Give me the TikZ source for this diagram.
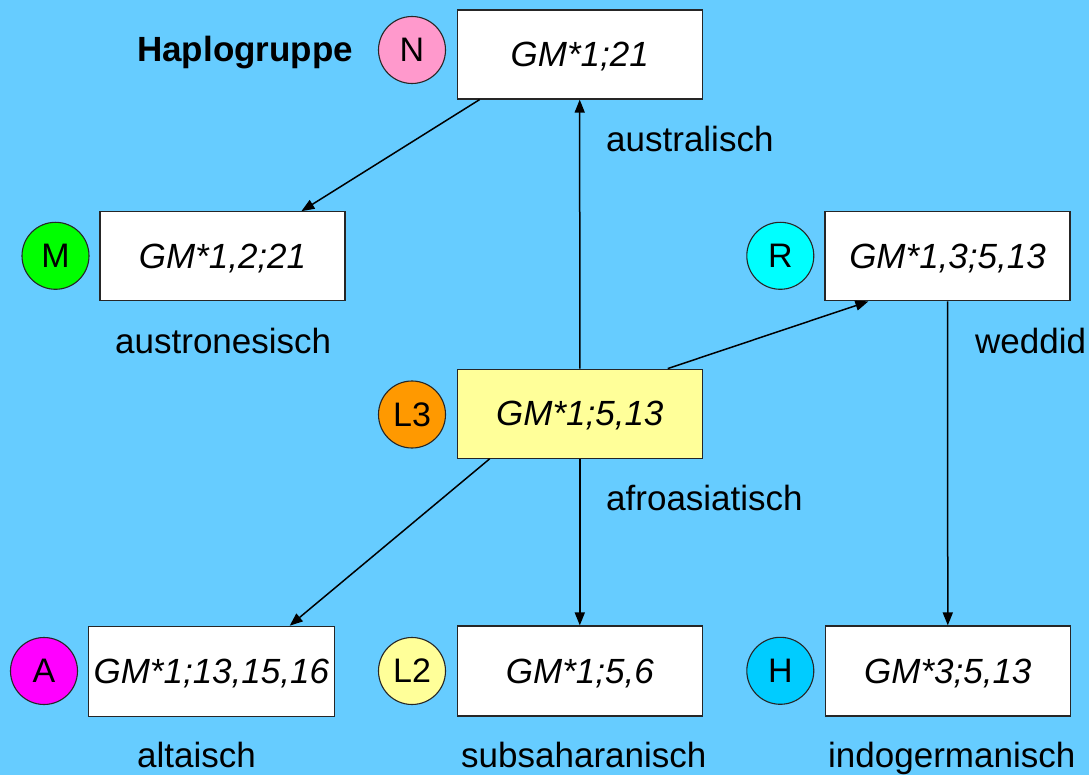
\documentclass[tikz,border=0pt]{standalone}
\usepackage{fontspec}
\setmainfont{Liberation Sans}
\usetikzlibrary{arrows.meta}
\definecolor{bgblue}{HTML}{66CCFF}
\definecolor{cN}{HTML}{FF99CC}
\definecolor{cM}{HTML}{00FF00}
\definecolor{cL}{HTML}{FF9900}
\definecolor{cY}{HTML}{FFFF99}
\definecolor{cA}{HTML}{FF00FF}
\definecolor{cR}{HTML}{00FFFF}
\definecolor{cH}{HTML}{00CCFF}
\tikzset{
  gmbox/.style={draw=black!85, line width=1.2pt, fill=white, minimum width=245pt, minimum height=89pt,
    inner sep=0pt, font=\fontsize{35}{40}\selectfont\itshape, text height=26pt, text depth=2pt},
  hgcirc/.style={circle, draw=black!85, line width=1.1pt, minimum size=67pt, inner sep=0pt,
    font=\fontsize{34}{40}\selectfont},
  lbl/.style={inner sep=0pt, anchor=base west, font=\fontsize{35}{40}\selectfont},
  conn/.style={line width=1.5pt, -{Triangle[length=13pt,width=10pt]}}
}
\begin{document}
\begin{tikzpicture}[x=1pt,y=-1pt]
\useasboundingbox[fill=bgblue] (0,0) rectangle (1089,775);
% boxes
\node[gmbox] (N) at (579.7,54.5) {GM*1;21};
\node[gmbox] (M) at (222.5,256.3) {GM*1,2;21};
\node[gmbox, fill=cY] (L3) at (579.8,413.7) {GM*1;5,13};
\node[gmbox, minimum width=246pt, minimum height=90pt] (A) at (211.3,671.3) {GM*1;13,15,16};
\node[gmbox, minimum height=90pt] (L2) at (579.8,671) {GM*1;5,6};
\node[gmbox] (R) at (947.5,256.3) {GM*1,3;5,13};
\node[gmbox, minimum height=90pt] (H) at (947.8,671) {GM*3;5,13};
% circles
\node[hgcirc, fill=cN] (cn) at (412,50) {N};
\node[hgcirc, fill=cM] (cm) at (55.5,255.8) {M};
\node[hgcirc, fill=cL] (cl3) at (412,414.5) {L3};
\node[hgcirc, fill=cA] (ca) at (44,671) {A};
\node[hgcirc, fill=cY] (cl2) at (412,671) {L2};
\node[hgcirc, fill=cR] (cr) at (780.3,255.8) {R};
\node[hgcirc, fill=cH] (ch) at (780.3,670.8) {H};
% labels
\node[lbl, font=\fontsize{35}{40}\selectfont\bfseries] (hap) at (137,61.7) {Haplogruppe};
\node[lbl] (l1) at (606,152) {australisch};
\node[lbl] (l2) at (115,353) {austronesisch};
\node[lbl] (l3) at (975,353) {weddid};
\node[lbl] (l4) at (606,510) {afroasiatisch};
\node[lbl] (l5) at (137,767) {altaisch};
\node[lbl] (l6) at (461,767) {subsaharanisch};
\node[lbl] (l7) at (828,767) {indogermanisch};
% connectors
\draw[conn] ([xshift=23pt]N.south west) -- ([xshift=202pt]M.north west);
\draw[conn] (L3.north) -- (N.south);
\draw[conn] ([xshift=211pt]L3.north west) -- ([xshift=44pt]R.south west);
\draw[conn] (R.south) -- (H.north);
\draw[conn] ([xshift=33pt]L3.south west) -- ([xshift=202pt]A.north west);
\draw[conn] (L3.south) -- (L2.north);
\end{tikzpicture}
\end{document}
